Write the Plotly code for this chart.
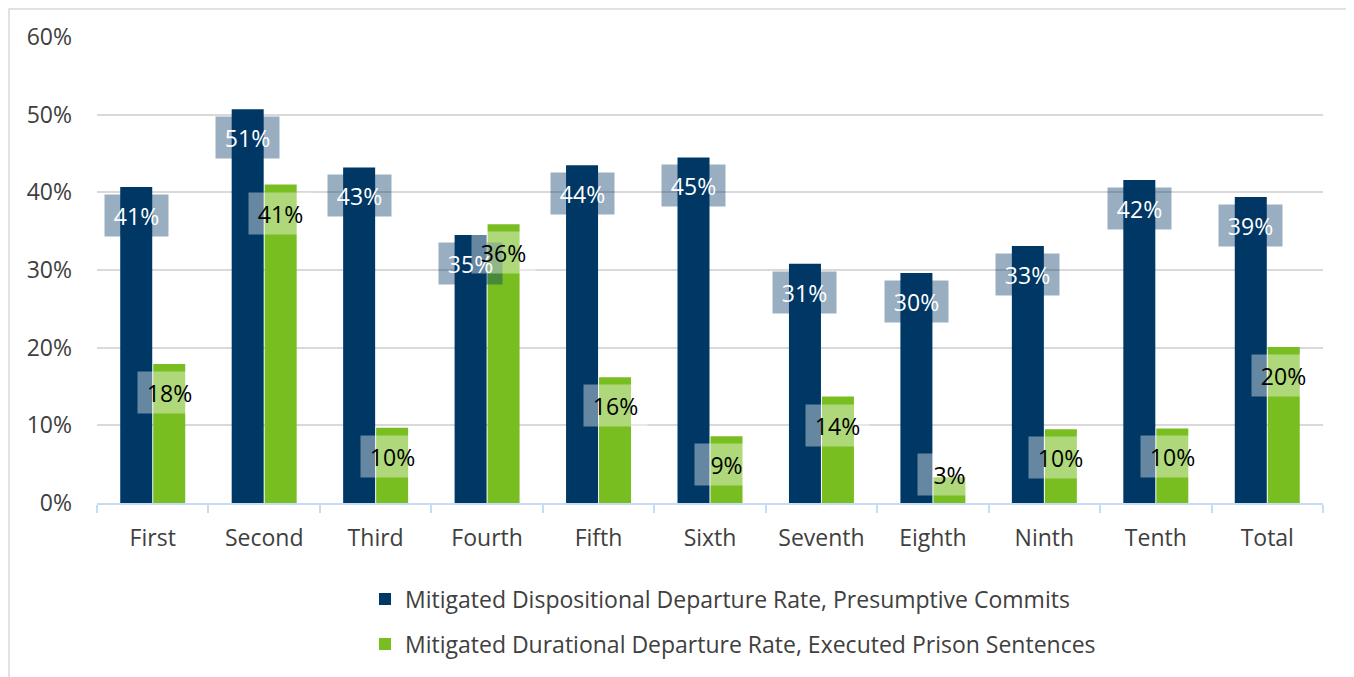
import math
import plotly.graph_objects as go

districts = ['First', 'Second', 'Third', 'Fourth', 'Fifth', 'Sixth',
             'Seventh', 'Eighth', 'Ninth', 'Tenth', 'Total']
dispositional = [40.7, 50.7, 43.2, 34.5, 43.5, 44.5, 30.8, 29.6, 33.1, 41.6, 39.4]
durational = [17.9, 41.0, 9.7, 35.9, 16.2, 8.6, 13.7, 3.3, 9.5, 9.6, 20.1]

NAVY = '#003865'
GREEN = '#78BE20'
GREY_TXT = '#404040'
FS = 23

fig = go.Figure()
fig.add_trace(go.Bar(x=districts, y=[v / 100 for v in dispositional],
                     name='Mitigated Dispositional Departure Rate, Presumptive Commits',
                     marker=dict(color=NAVY, line=dict(width=0)),
                     legendgroup='a', hoverinfo='skip'))
fig.add_trace(go.Bar(x=districts, y=[v / 100 for v in durational],
                     name='Mitigated Durational Departure Rate, Executed Prison Sentences',
                     marker=dict(color=GREEN, line=dict(width=0)),
                     legendgroup='b', hoverinfo='skip'))

# data labels: translucent boxes just inside the top of each bar
px_per_unit = 466 / 0.6
box_h = 41


def add_labels(values, shift, bg, txt_color):
    for cat, v in zip(districts, values):
        label = '{}%'.format(math.floor(v + 0.5))
        y = v / 100
        if y * px_per_unit - 7 < box_h + 7:
            fig.add_annotation(x=cat, y=0, yanchor='bottom', yshift=7,
                               xshift=shift, text=label, showarrow=False,
                               width=63, height=box_h, borderpad=0,
                               bgcolor=bg, font=dict(size=FS, color=txt_color))
        else:
            fig.add_annotation(x=cat, y=y, yanchor='top', yshift=-7,
                               xshift=shift, text=label, showarrow=False,
                               width=63, height=box_h, borderpad=0,
                               bgcolor=bg, font=dict(size=FS, color=txt_color))


add_labels(dispositional, -16.5, 'rgba(0,56,101,0.4)', 'white')
add_labels(durational, 16.5, 'rgba(255,255,255,0.4)', 'black')

# outer chart border
fig.add_shape(type='rect', xref='paper', yref='paper',
              x0=(1 - 89) / 1226, x1=(1339 - 89) / 1226,
              y0=(495 - 700) / 466, y1=(495 - 1) / 466,
              line=dict(color='#D9D9D9', width=1.5), fillcolor='rgba(0,0,0,0)')

fig.update_layout(
    width=1354, height=677,
    margin=dict(l=89, r=39, t=29, b=182),
    paper_bgcolor='white', plot_bgcolor='white',
    font=dict(family='Open Sans, sans-serif', size=FS, color=GREY_TXT),
    barmode='group', bargap=0.408, bargroupgap=0.03,
    showlegend=True,
    legend=dict(orientation='v', x=0.2186, xanchor='left', y=-0.16, yanchor='top',
                traceorder='grouped', tracegroupgap=12,
                font=dict(size=FS, color=GREY_TXT), bgcolor='rgba(0,0,0,0)'),
    xaxis=dict(showgrid=False, showline=True, linecolor='#C6DCF2', linewidth=2,
               ticks='outside', tickson='boundaries', ticklen=8, tickwidth=2,
               tickcolor='#C6DCF2', ticklabelstandoff=13,
               tickfont=dict(size=FS, color=GREY_TXT)),
    yaxis=dict(range=[0, 0.6], dtick=0.1, tickformat='.0%', showgrid=True,
               gridcolor='#D9D9D9', gridwidth=2, zeroline=False, showline=False,
               ticks='', ticklabelstandoff=24,
               tickfont=dict(size=FS, color=GREY_TXT)),
)

fig.write_html('out.html')
